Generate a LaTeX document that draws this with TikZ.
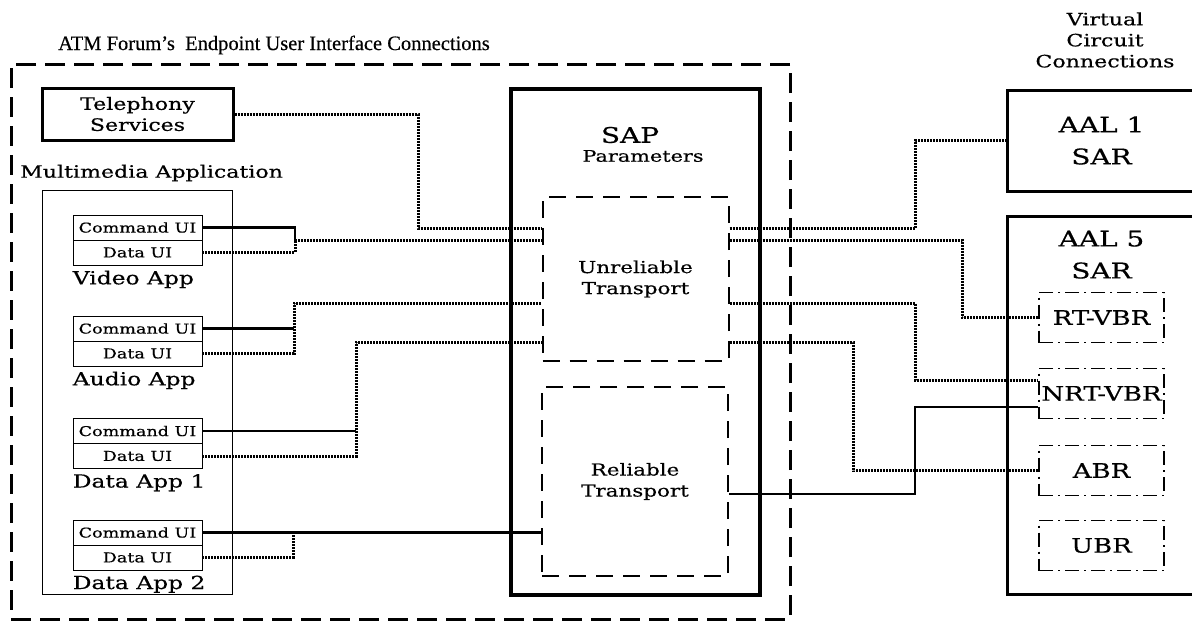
\documentclass[tikz,border=0pt]{standalone}
\usepackage{fontspec}
\setmainfont{DejaVu Serif}[FakeStretch=1.3, FakeBold=0.5]
\newfontfamily\titlefont{Liberation Serif}[FakeBold=0.4]
\usetikzlibrary{positioning}

\begin{document}
\begin{tikzpicture}[x=1pt, y=-1pt,
    every node/.style={font=\fontsize{17}{21}\selectfont, inner sep=0pt},
    dotline/.style={line width=3pt, dash pattern=on 2pt off 1pt},
    solidline/.style={line width=2.3pt},
    uibox/.style={draw, line width=0.9pt, minimum width=129pt, minimum height=25pt, font=\fontsize{13.5}{15}\selectfont},
    applabel/.style={font=\fontsize{18}{21}\selectfont},
    tbox/.style={draw, line width=2pt, dash pattern=on 17pt off 10pt, minimum width=186pt, align=center, font=\fontsize{16.5}{21}\selectfont},
    vcbox/.style={draw, line width=1.3pt, dash pattern=on 14pt off 5pt on 2pt off 5pt, minimum width=125pt, minimum height=50pt, font=\fontsize{20}{22}\selectfont},
    bigfont/.style={font=\fontsize{21.5}{32}\selectfont}]
  \useasboundingbox (0,0) rectangle (1192,622);
  \clip (0,0) rectangle (1192,622);

  % endpoint side
  \node[draw, line width=3pt, dash pattern=on 20pt off 9pt, minimum width=779pt, minimum height=555pt] (ep) at (400.5,341.5) {};
  \node[font=\titlefont\fontsize{20.5}{24}\selectfont] (eptitle) at (274,45) {ATM Forum’s\ \ Endpoint User Interface Connections};
  \node[draw, line width=3pt, minimum width=191pt, minimum height=52pt, align=center] (tel) at (137.5,114) {Telephony\\Services};
  \node[anchor=west] (mmtitle) at (20,173) {Multimedia Application};
  \node[draw, line width=0.8pt, minimum width=190pt, minimum height=404pt] (mm) at (137,392) {};

  \node[uibox] (cmdv) at (137.5,227.5) {Command UI};
  \node[uibox] (datv) at (137.5,252.5) {Data UI};
  \node[applabel, below right=5pt and 0pt of datv.south west] (appv) {Video App};
  \node[uibox] (cmda) at (137.5,328.5) {Command UI};
  \node[uibox] (data) at (137.5,353.5) {Data UI};
  \node[applabel, below right=5pt and 0pt of data.south west] (appa) {Audio App};
  \node[uibox] (cmdd) at (137.5,431) {Command UI};
  \node[uibox] (datd) at (137.5,456) {Data UI};
  \node[applabel, below right=5pt and 0pt of datd.south west] (appd) {Data App 1};
  \node[uibox] (cmde) at (137.5,532.5) {Command UI};
  \node[uibox] (date) at (137.5,557.5) {Data UI};
  \node[applabel, below right=5pt and 0pt of date.south west] (appe) {Data App 2};

  % SAP and transports
  \node[draw, line width=3.5pt, minimum width=249pt, minimum height=506pt] (sap) at (635.5,342) {};
  \node[bigfont] (saptxt) at (630,135) {SAP};
  \node[font=\fontsize{16}{20}\selectfont] (sapparam) at (643,156) {Parameters};
  \node[tbox, minimum height=164pt] (unrel) at (635.5,279) {Unreliable\\Transport};
  \node[tbox, minimum height=189pt] (rel) at (635,481.5) {Reliable\\Transport};

  % virtual circuits
  \node[align=center] (vctitle) at (1105,40) {Virtual\\Circuit\\Connections};
  \node[draw, line width=3pt, minimum width=189pt, minimum height=101pt, align=center, bigfont] (aal1) at (1101.5,140.5) {AAL 1\\SAR};
  \node[draw, line width=3pt, minimum width=189pt, minimum height=378pt] (aal5) at (1101.5,405) {};
  \node[below=16pt of aal5.north, align=center, bigfont] (aal5txt) {AAL 5\\SAR};
  \node[vcbox] (rtvbr) at (1101.5,317.5) {RT-VBR};
  \node[vcbox] (nrtvbr) at (1101.5,393.5) {NRT-VBR};
  \node[vcbox] (abr) at (1101.5,470.5) {ABR};
  \node[vcbox] (ubr) at (1101.5,545.5) {UBR};

  % applications to transports
  \draw[dotline] (tel.east) -| (418,228) -- (unrel.west |- 0,228);
  \draw[solidline] (cmdv.east) -| (295,240);
  \draw[dotline] (datv.east) -| (295,240) -- (unrel.west |- 0,240);
  \draw[solidline] (cmda.east) -- (cmda.east -| 294,0);
  \draw[dotline] (data.east) -| (294,303) -- (unrel.west |- 0,303);
  \draw[solidline] (cmdd.east) -- (cmdd.east -| 356,0);
  \draw[dotline] (datd.east) -| (356,342) -- (unrel.west |- 0,342);
  \draw[solidline] (cmde.east) -- (rel.west |- cmde.east);
  \draw[dotline] (date.east) -| (293,532.5);

  % transports to virtual circuits
  \draw[dotline] (unrel.east |- 0,228) -| (915,140.5) -- (aal1.west);
  \draw[dotline] (unrel.east |- 0,240) -| (962,317.5) -- (rtvbr.west);
  \draw[dotline] (unrel.east |- 0,303) -| (915,380) -- (nrtvbr.west |- 0,380);
  \draw[dotline] (unrel.east |- 0,342) -| (853,470.5) -- (abr.west);
  \draw[solidline] (rel.east |- 0,494) -| (915,407) -- (nrtvbr.west |- 0,407);
\end{tikzpicture}
\end{document}
